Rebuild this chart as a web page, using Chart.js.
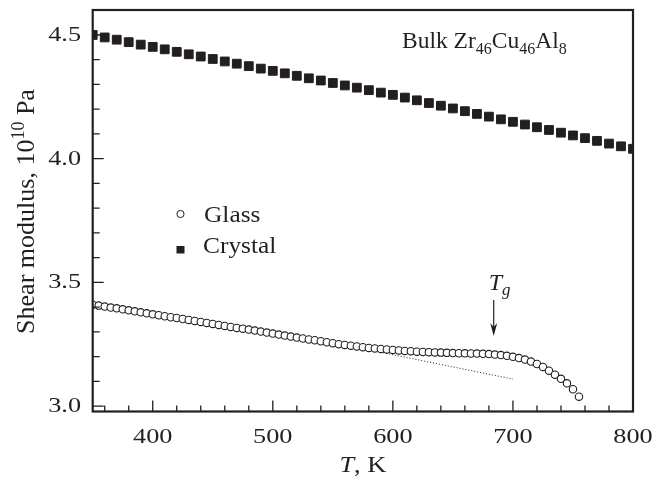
<!DOCTYPE html>
<html>
<head>
<meta charset="utf-8">
<script src="https://cdn.jsdelivr.net/npm/chart.js@4.4.1/dist/chart.umd.min.js"></script>
<style>
html,body{margin:0;padding:0;background:#fff;}
#wrap{width:656px;height:481px;}
</style>
</head>
<body>
<div id="wrap"><canvas id="c" width="656" height="481"></canvas></div>
<script>
// ---- data ----
const crystalT = [350,360,370,380,390,400,410,420,430,440,450,460,470,480,490,500,510,520,530,540,550,560,570,580,590,600,610,620,630,640,650,660,670,680,690,700,710,720,730,740,750,760,770,780,790,800];
const crystalG = [4.500,4.490,4.481,4.471,4.461,4.452,4.442,4.432,4.422,4.413,4.403,4.393,4.384,4.374,4.364,4.355,4.345,4.335,4.325,4.316,4.306,4.296,4.287,4.277,4.267,4.258,4.247,4.236,4.225,4.214,4.203,4.192,4.181,4.170,4.159,4.149,4.138,4.127,4.116,4.105,4.094,4.083,4.072,4.061,4.050,4.040];

const glassT = [350,355,360,365,370,375,380,385,390,395,400,405,410,415,420,425,430,435,440,445,450,455,460,465,470,475,480,485,490,495,500,505,510,515,520,525,530,535,540,545,550,555,560,565,570,575,580,585,590,595,600,605,610,615,620,625,630,635,640,645,650,655,660,665,670,675,680,685,690,695,700,705,710,715,720,725,730,735,740,745,750,755];
const glassG = [3.410,3.406,3.402,3.398,3.395,3.391,3.387,3.383,3.379,3.375,3.371,3.367,3.363,3.359,3.356,3.352,3.348,3.344,3.340,3.336,3.332,3.328,3.324,3.320,3.316,3.313,3.309,3.305,3.301,3.297,3.293,3.289,3.285,3.281,3.277,3.273,3.269,3.266,3.262,3.258,3.254,3.250,3.247,3.244,3.241,3.238,3.235,3.233,3.231,3.229,3.227,3.225,3.223,3.222,3.220,3.219,3.218,3.217,3.216,3.215,3.214,3.2135,3.213,3.2125,3.212,3.211,3.210,3.208,3.206,3.203,3.199,3.194,3.188,3.180,3.170,3.158,3.143,3.127,3.110,3.092,3.068,3.038];

const fitT = [560,700];
const fitG = [3.247,3.109];

const xTicks = [400,500,600,700,800];
const yTicks = [3.0,3.5,4.0,4.5];
const xMinor = [360,380,420,440,460,480,520,540,560,580,620,640,660,680,720,740,760,780];
const yMinor = [3.1,3.2,3.3,3.4,3.6,3.7,3.8,3.9,4.1,4.2,4.3,4.4];

const seriesNames = ['Glass','Crystal'];
const TgValue = 684;

const INK = '#231f20';
const SERIF = '"Liberation Serif", "Times New Roman", serif';

function pts(xs, ys){ return xs.map((x,i)=>({x:x, y:ys[i]})); }

function drawRuns(ctx, runs, x, y, align, sx){
  sx = sx || 1;
  let total = 0;
  runs.forEach(r=>{ ctx.font = (r.italic?'italic ':'') + r.size + 'px ' + SERIF; r.w = ctx.measureText(r.t).width * sx; total += r.w; });
  let cx = align==='center' ? x - total/2 : (align==='right' ? x - total : x);
  runs.forEach(r=>{
    ctx.font = (r.italic?'italic ':'') + r.size + 'px ' + SERIF;
    ctx.save();
    ctx.translate(cx, y + (r.dy||0));
    ctx.scale(sx, 1);
    ctx.fillText(r.t, 0, 0);
    ctx.restore();
    cx += r.w;
  });
}

const decor = {
  id: 'decor',
  afterDatasetsDraw(chart){
    const ctx = chart.ctx, a = chart.chartArea;
    const xs = chart.scales.x, ys = chart.scales.y;
    ctx.save();
    ctx.strokeStyle = INK;
    ctx.fillStyle = INK;
    // frame
    ctx.lineWidth = 2.2;
    ctx.strokeRect(a.left, a.top, a.right - a.left, a.bottom - a.top);
    // inward ticks
    ctx.lineWidth = 1.3;
    ctx.beginPath();
    xTicks.forEach(v=>{ const p = xs.getPixelForValue(v); ctx.moveTo(p, a.bottom); ctx.lineTo(p, a.bottom - 11); });
    xMinor.forEach(v=>{ const p = xs.getPixelForValue(v); ctx.moveTo(p, a.bottom); ctx.lineTo(p, a.bottom - 6); });
    yTicks.forEach(v=>{ const p = ys.getPixelForValue(v); ctx.moveTo(a.left, p); ctx.lineTo(a.left + 11, p); });
    yMinor.forEach(v=>{ const p = ys.getPixelForValue(v); ctx.moveTo(a.left, p); ctx.lineTo(a.left + 7, p); });
    ctx.stroke();

    ctx.textBaseline = 'alphabetic';
    ctx.textAlign = 'left';
    // tick labels
    xTicks.forEach(v=>{ drawRuns(ctx, [{t:String(v), size:21}], xs.getPixelForValue(v), 443, 'center', 1.25); });
    yTicks.forEach(v=>{ drawRuns(ctx, [{t:v.toFixed(1), size:21}], 81, ys.getPixelForValue(v) + 6, 'right', 1.25); });
    // x title
    drawRuns(ctx, [{t:'T', size:24, italic:true},{t:', K', size:24}], (a.left + a.right)/2, 472, 'center', 1.1);
    // y title
    ctx.save();
    ctx.translate(33.5, 211.5);
    ctx.rotate(-Math.PI/2);
    drawRuns(ctx, [{t:'Shear modulus, 10', size:26},{t:'10', size:18, dy:-10},{t:' Pa', size:26}], 0, 0, 'center');
    ctx.restore();
    // annotation
    drawRuns(ctx, [{t:'Bulk Zr', size:23.5},{t:'46', size:16, dy:6},{t:'Cu', size:23.5},{t:'46', size:16, dy:6},{t:'Al', size:23.5},{t:'8', size:16, dy:6}], 402, 48, 'left');
    // legend
    ctx.lineWidth = 1;
    ctx.beginPath(); ctx.arc(180.5, 214, 3.6, 0, Math.PI*2); ctx.fillStyle='#fff'; ctx.fill(); ctx.stroke();
    ctx.fillStyle = INK;
    ctx.fillRect(176.5, 246, 8, 7.5);
    drawRuns(ctx, [{t:seriesNames[0], size:23.5}], 204, 222, 'left', 1.08);
    drawRuns(ctx, [{t:seriesNames[1], size:23.5}], 203, 253, 'left', 1.08);
    // Tg label and arrow
    const tx = xs.getPixelForValue(TgValue);
    drawRuns(ctx, [{t:'T', size:24, italic:true},{t:'g', size:17, italic:true, dy:5}], tx - 5, 290, 'left');
    const yTop = 300, yBot = 336;
    ctx.lineWidth = 1.2;
    ctx.beginPath(); ctx.moveTo(tx, yTop); ctx.lineTo(tx, yBot - 8); ctx.stroke();
    ctx.beginPath(); ctx.moveTo(tx - 3.5, yBot - 13); ctx.lineTo(tx, yBot - 9); ctx.lineTo(tx + 3.5, yBot - 13); ctx.lineTo(tx, yBot); ctx.closePath(); ctx.fill();
    ctx.restore();
  }
};

new Chart(document.getElementById('c'), {
  type: 'scatter',
  data: {
    datasets: [
      { label: 'fit', data: pts(fitT, fitG), showLine: true, pointRadius: 0, borderColor: INK, borderWidth: 1, borderDash: [1,2], order: 3 },
      { label: seriesNames[0], data: pts(glassT, glassG), pointStyle: 'circle', pointRadius: 3.7, borderWidth: 1.1, borderColor: INK, backgroundColor: '#fff', order: 1 },
      { label: seriesNames[1], data: pts(crystalT, crystalG), pointStyle: 'rect', pointRadius: 6.2, borderWidth: 1, borderColor: INK, backgroundColor: INK, order: 2 }
    ]
  },
  options: {
    responsive: false,
    animation: false,
    events: [],
    layout: { padding: { left: 0, right: 23, top: 10, bottom: 0 } },
    plugins: { legend: { display: false }, tooltip: { enabled: false }, title: { display: false } },
    scales: {
      x: {
        type: 'linear', min: 350, max: 800,
        afterBuildTicks: s => { s.ticks = xTicks.map(v => ({ value: v })); },
        afterFit: s => { s.height = 69.5; },
        grid: { display: false, drawTicks: false },
        border: { display: false },
        ticks: { display: false }
      },
      y: {
        type: 'linear', min: 2.978, max: 4.601,
        afterBuildTicks: s => { s.ticks = yTicks.map(v => ({ value: v })); },
        afterFit: s => { s.width = 92.7; },
        grid: { display: false, drawTicks: false },
        border: { display: false },
        ticks: { display: false }
      }
    }
  },
  plugins: [decor]
});
</script>
</body>
</html>
